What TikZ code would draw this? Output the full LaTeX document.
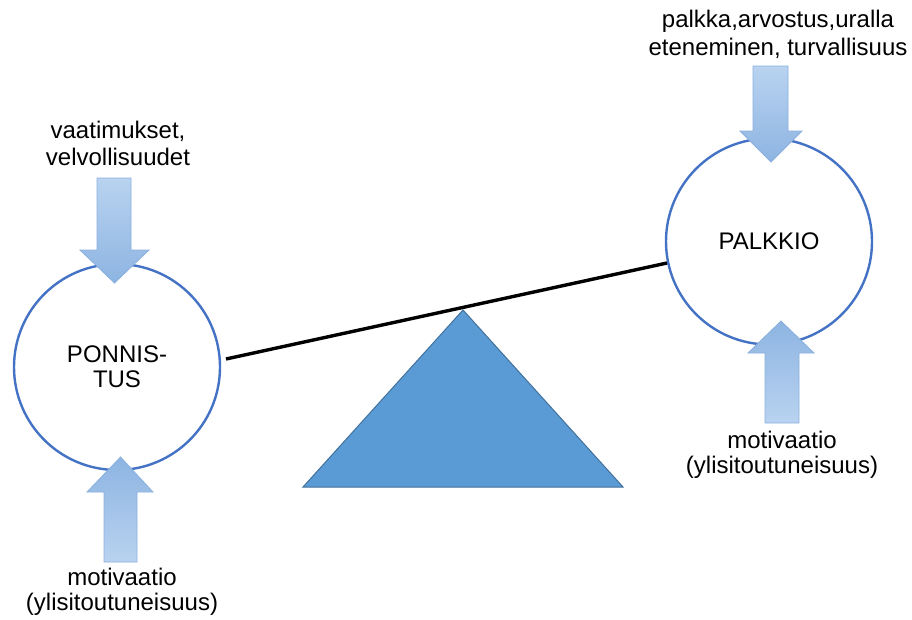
\documentclass[tikz,border=0pt]{standalone}
\usepackage{fontspec}
\setmainfont{Liberation Sans}
\definecolor{circblue}{HTML}{4472C4}
\definecolor{trifill}{HTML}{5B9BD5}
\definecolor{triedge}{HTML}{41719C}
\definecolor{arrdark}{HTML}{8DB4E2}
\definecolor{arrlight}{HTML}{B9D3F0}
\definecolor{arredge}{HTML}{8AB0DE}
\begin{document}
\begin{tikzpicture}[x=1pt,y=-1pt,
  ring/.style={circle,draw=circblue,line width=2.4pt,fill=white,minimum size=206pt,inner sep=0pt,
    font=\fontsize{24}{25}\selectfont,align=center},
  lbl/.style={font=\fontsize{24}{#1}\selectfont,align=center,inner sep=0pt,anchor=base},
  downarrow/.style={draw=arredge,line width=0.8pt,top color=arrlight,bottom color=arrdark},
  uparrow/.style={draw=arredge,line width=0.8pt,top color=arrdark,bottom color=arrlight},
  fulcrum/.style={fill=trifill,draw=triedge,line width=1pt,line join=miter},
  beam/.style={draw=black,line width=3.4pt}]
\useasboundingbox (0,0) rectangle (912,619);
% circles
\node[ring] (pon) at (117,367) {PONNIS-\\TUS};
\node[ring] (pal) at (769,241.5) {PALKKIO};
% arrows
\draw[downarrow] (97,178) -- (131,178) -- (131,250) -- (149,250) -- (114.5,283) -- (80,250) -- (97,250) -- cycle;
\draw[uparrow] (104,562) -- (137,562) -- (137,492) -- (153,492) -- (120.5,457) -- (87,492) -- (104,492) -- cycle;
\draw[downarrow] (753,66) -- (788,66) -- (788,131) -- (802,131) -- (771,162) -- (740,131) -- (753,131) -- cycle;
\draw[uparrow] (765,423) -- (799,423) -- (799,353) -- (814,353) -- (781,321) -- (748,353) -- (765,353) -- cycle;
% fulcrum
\coordinate (apex) at (463,310);
\coordinate (baseR) at (623,487);
\coordinate (baseL) at (303,487);
\draw[fulcrum] (apex) -- (baseR) -- (baseL) -- cycle;
% beam
\coordinate (beamL) at (226,359);
\coordinate (beamR) at (667,263);
\draw[beam] (beamL) -- (beamR);
% labels
\node[lbl=27] (demands) at (118,165) {vaatimukset,\\velvollisuudet};
\node[lbl=28] (rewards) at (778,55) {palkka,arvostus,uralla\\eteneminen, turvallisuus};
\node[lbl=25] (motL) at (122,610) {motivaatio\\(ylisitoutuneisuus)};
\node[lbl=25] (motR) at (782,473) {motivaatio\\(ylisitoutuneisuus)};
\end{tikzpicture}
\end{document}
